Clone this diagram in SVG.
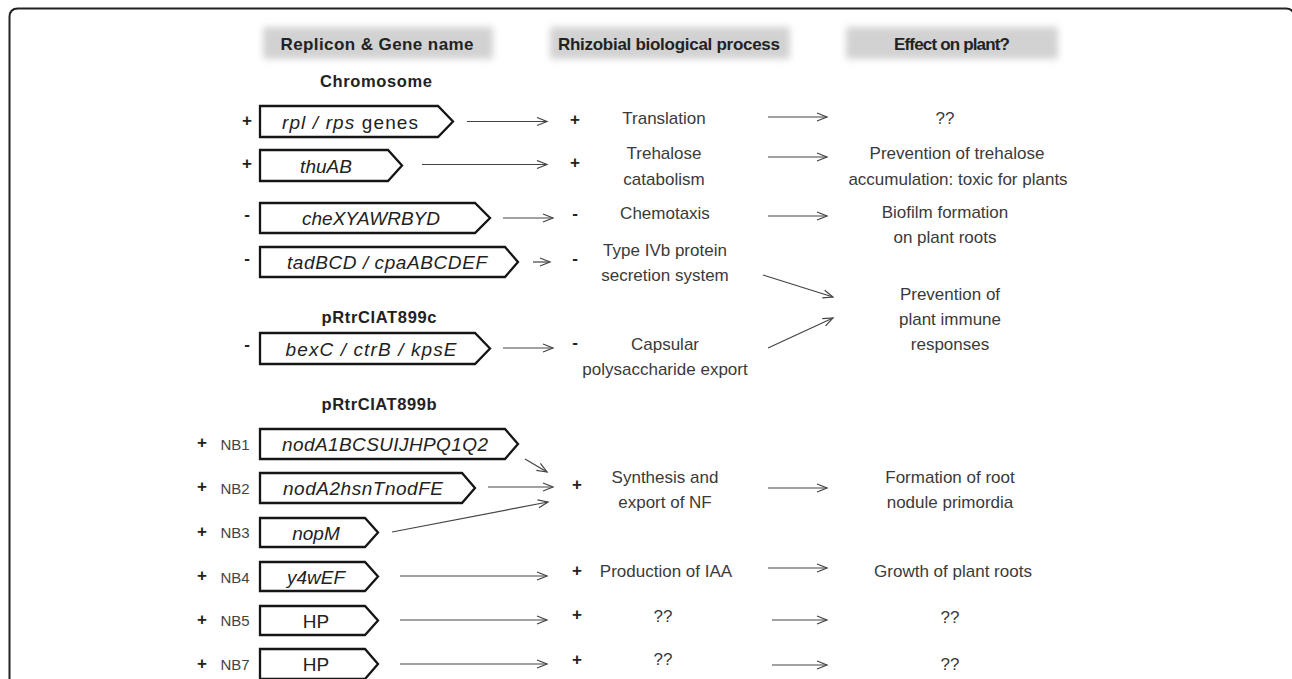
<svg xmlns="http://www.w3.org/2000/svg" width="1292" height="679" viewBox="0 0 1292 679">
<defs>
<filter id="soft" x="-20%" y="-40%" width="140%" height="180%"><feGaussianBlur stdDeviation="3.5"/></filter>
<marker id="ah" markerUnits="userSpaceOnUse" markerWidth="14" markerHeight="12" refX="11" refY="5" orient="auto"><path d="M1,1 L11,5 L1,9" fill="none" stroke="#444" stroke-width="1.2"/></marker>
</defs>
<style>
.hdr{font-family:"Liberation Sans",Arial,sans-serif;font-weight:bold;font-size:17px;fill:#222;text-anchor:middle}
.rep{font-family:"Liberation Sans",Arial,sans-serif;font-weight:bold;font-size:16.5px;fill:#222;text-anchor:middle}
.txt{font-family:"Liberation Sans",Arial,sans-serif;font-size:17px;fill:#3a3a3a;text-anchor:middle}
.gene{font-family:"Liberation Sans",Arial,sans-serif;font-style:italic;font-size:19px;fill:#222;text-anchor:middle}
.plain{font-family:"Liberation Sans",Arial,sans-serif;font-size:19px;fill:#222;text-anchor:middle}
.sign{font-family:"Liberation Sans",Arial,sans-serif;font-weight:bold;font-size:17px;fill:#222;text-anchor:middle}
.nb{font-family:"Liberation Sans",Arial,sans-serif;font-size:15px;fill:#444;text-anchor:middle}
.box{fill:#fff;stroke:#151515;stroke-width:2.3;stroke-linejoin:miter}
.hbox{fill:#d2d2d2;filter:url(#soft)}
.con line{stroke:#444;stroke-width:1.2;marker-end:url(#ah)}
</style>
<rect width="1292" height="679" fill="#fff"/>
<path d="M9.5,700 V17 Q9.5,8.5 18,8.5 H1286 Q1294,8.5 1294,17 V700" fill="none" stroke="#222" stroke-width="2"/>

<g id="headers">
<rect class="hbox" x="263" y="27" width="230" height="32"/>
<rect class="hbox" x="550" y="27" width="240" height="32"/>
<rect class="hbox" x="846" y="27" width="212" height="32"/>
<text class="hdr" x="377" y="50" textLength="193">Replicon &amp; Gene name</text>
<text class="hdr" x="669" y="50" textLength="222">Rhizobial biological  process</text>
<text class="hdr" x="952" y="50" font-size="16" textLength="116">Effect on plant?</text>
</g>

<g id="replicons">
<text class="rep" x="376" y="87" textLength="112">Chromosome</text>
<text class="rep" x="379" y="323" textLength="115">pRtrCIAT899c</text>
<text class="rep" x="379" y="410" textLength="115">pRtrCIAT899b</text>
</g>

<g id="gene-rpl">
<text class="sign" x="247" y="126">+</text>
<path class="box" d="M260,106 H438 L453,121.5 L438,137 H260 Z"/>
<text class="gene" x="350" y="128.5" textLength="136">rpl / rps<tspan font-style="normal"> genes</tspan></text>
</g>
<g id="gene-thu">
<text class="sign" x="247" y="169">+</text>
<path class="box" d="M260,150 H388 L402,165.5 L388,181 H260 Z"/>
<text class="gene" x="326" y="172.5">thuAB</text>
</g>
<g id="gene-che">
<text class="sign" x="247" y="220">-</text>
<path class="box" d="M260,203 H475 L490,218 L475,233 H260 Z"/>
<text class="gene" x="371" y="225" textLength="138">cheXYAWRBYD</text>
</g>
<g id="gene-tad">
<text class="sign" x="247" y="264">-</text>
<path class="box" d="M260,247 H505 L518,262 L505,277 H260 Z"/>
<text class="gene" x="387" y="269" textLength="200">tadBCD / cpaABCDEF</text>
</g>
<g id="gene-bex">
<text class="sign" x="247" y="350">-</text>
<path class="box" d="M260,333 H475 L490,348.5 L475,364 H260 Z"/>
<text class="gene" x="371" y="355.5" textLength="171">bexC  /  ctrB  /  kpsE</text>
</g>
<g id="gene-nb1">
<text class="sign" x="202" y="448">+</text>
<text class="nb" x="235" y="449.5">NB1</text>
<path class="box" d="M260,429 H505 L518,444 L505,459 H260 Z"/>
<text class="gene" x="385" y="451" textLength="206">nodA1BCSUIJHPQ1Q2</text>
</g>
<g id="gene-nb2">
<text class="sign" x="202" y="492">+</text>
<text class="nb" x="235" y="493.5">NB2</text>
<path class="box" d="M260,473 H462 L475,488 L462,503 H260 Z"/>
<text class="gene" x="363" y="495" textLength="160">nodA2hsnTnodFE</text>
</g>
<g id="gene-nb3">
<text class="sign" x="202" y="537">+</text>
<text class="nb" x="235" y="538">NB3</text>
<path class="box" d="M260,518 H365 L378,532.5 L365,547 H260 Z"/>
<text class="gene" x="316" y="539.5">nopM</text>
</g>
<g id="gene-nb4">
<text class="sign" x="202" y="581">+</text>
<text class="nb" x="235" y="582.5">NB4</text>
<path class="box" d="M260,562 H365 L378,576.5 L365,591 H260 Z"/>
<text class="gene" x="316" y="583.5">y4wEF</text>
</g>
<g id="gene-nb5">
<text class="sign" x="202" y="625">+</text>
<text class="nb" x="235" y="626">NB5</text>
<path class="box" d="M260,606 H365 L378,620.5 L365,635 H260 Z"/>
<text class="plain" x="316" y="627.5">HP</text>
</g>
<g id="gene-nb7">
<text class="sign" x="202" y="669">+</text>
<text class="nb" x="235" y="670">NB7</text>
<path class="box" d="M260,649 H365 L378,664 L365,679 H260 Z"/>
<text class="plain" x="316" y="671">HP</text>
</g>

<g id="process-translation">
<text class="sign" x="575" y="125">+</text>
<text class="txt" x="664" y="124">Translation</text>
</g>
<g id="process-trehalose">
<text class="sign" x="575" y="168">+</text>
<text class="txt" x="664" y="159">Trehalose</text>
<text class="txt" x="664" y="185">catabolism</text>
</g>
<g id="process-chemotaxis">
<text class="sign" x="575" y="219">-</text>
<text class="txt" x="665" y="219">Chemotaxis</text>
</g>
<g id="process-type4">
<text class="sign" x="575" y="264">-</text>
<text class="txt" x="665" y="256">Type IVb protein</text>
<text class="txt" x="665" y="281">secretion system</text>
</g>
<g id="process-capsular">
<text class="sign" x="575" y="348">-</text>
<text class="txt" x="665" y="350">Capsular</text>
<text class="txt" x="665" y="375">polysaccharide export</text>
</g>
<g id="process-nf">
<text class="sign" x="577" y="490">+</text>
<text class="txt" x="665" y="483">Synthesis and</text>
<text class="txt" x="665" y="508">export of NF</text>
</g>
<g id="process-iaa">
<text class="sign" x="577" y="576">+</text>
<text class="txt" x="666" y="577">Production of IAA</text>
</g>
<g id="process-nb5">
<text class="sign" x="577" y="620">+</text>
<text class="txt" x="663" y="622">??</text>
</g>
<g id="process-nb7">
<text class="sign" x="577" y="665">+</text>
<text class="txt" x="663" y="665">??</text>
</g>

<g id="effect-1"><text class="txt" x="945" y="124">??</text></g>
<g id="effect-2">
<text class="txt" x="957" y="159">Prevention of trehalose</text>
<text class="txt" x="958" y="185">accumulation: toxic for plants</text>
</g>
<g id="effect-3">
<text class="txt" x="945" y="218">Biofilm formation</text>
<text class="txt" x="945" y="243">on plant roots</text>
</g>
<g id="effect-4">
<text class="txt" x="950" y="300">Prevention of</text>
<text class="txt" x="950" y="325">plant immune</text>
<text class="txt" x="950" y="350">responses</text>
</g>
<g id="effect-5">
<text class="txt" x="950" y="483">Formation of root</text>
<text class="txt" x="950" y="508">nodule primordia</text>
</g>
<g id="effect-6"><text class="txt" x="953" y="577">Growth of plant roots</text></g>
<g id="effect-7"><text class="txt" x="950" y="623">??</text></g>
<g id="effect-8"><text class="txt" x="950" y="670">??</text></g>

<g id="connectors" class="con">
<line x1="467" y1="121.5" x2="547" y2="121.5"/>
<line x1="422" y1="164.5" x2="547" y2="164.5"/>
<line x1="503" y1="218" x2="553" y2="218"/>
<line x1="533" y1="262" x2="550" y2="262"/>
<line x1="503" y1="348" x2="553" y2="348"/>
<line x1="525" y1="459" x2="547" y2="472"/>
<line x1="488" y1="487" x2="553" y2="487"/>
<line x1="392" y1="532" x2="548" y2="502"/>
<line x1="400" y1="576" x2="547" y2="576"/>
<line x1="400" y1="620" x2="547" y2="620"/>
<line x1="400" y1="664" x2="547" y2="664"/>
<line x1="768" y1="117" x2="827" y2="117"/>
<line x1="768" y1="157" x2="827" y2="157"/>
<line x1="768" y1="216" x2="827" y2="216"/>
<line x1="763" y1="275" x2="833" y2="297"/>
<line x1="768" y1="348" x2="833" y2="318"/>
<line x1="768" y1="488" x2="827" y2="488"/>
<line x1="768" y1="568" x2="827" y2="568"/>
<line x1="772" y1="620" x2="827" y2="620"/>
<line x1="772" y1="665" x2="827" y2="665"/>
</g>
</svg>
